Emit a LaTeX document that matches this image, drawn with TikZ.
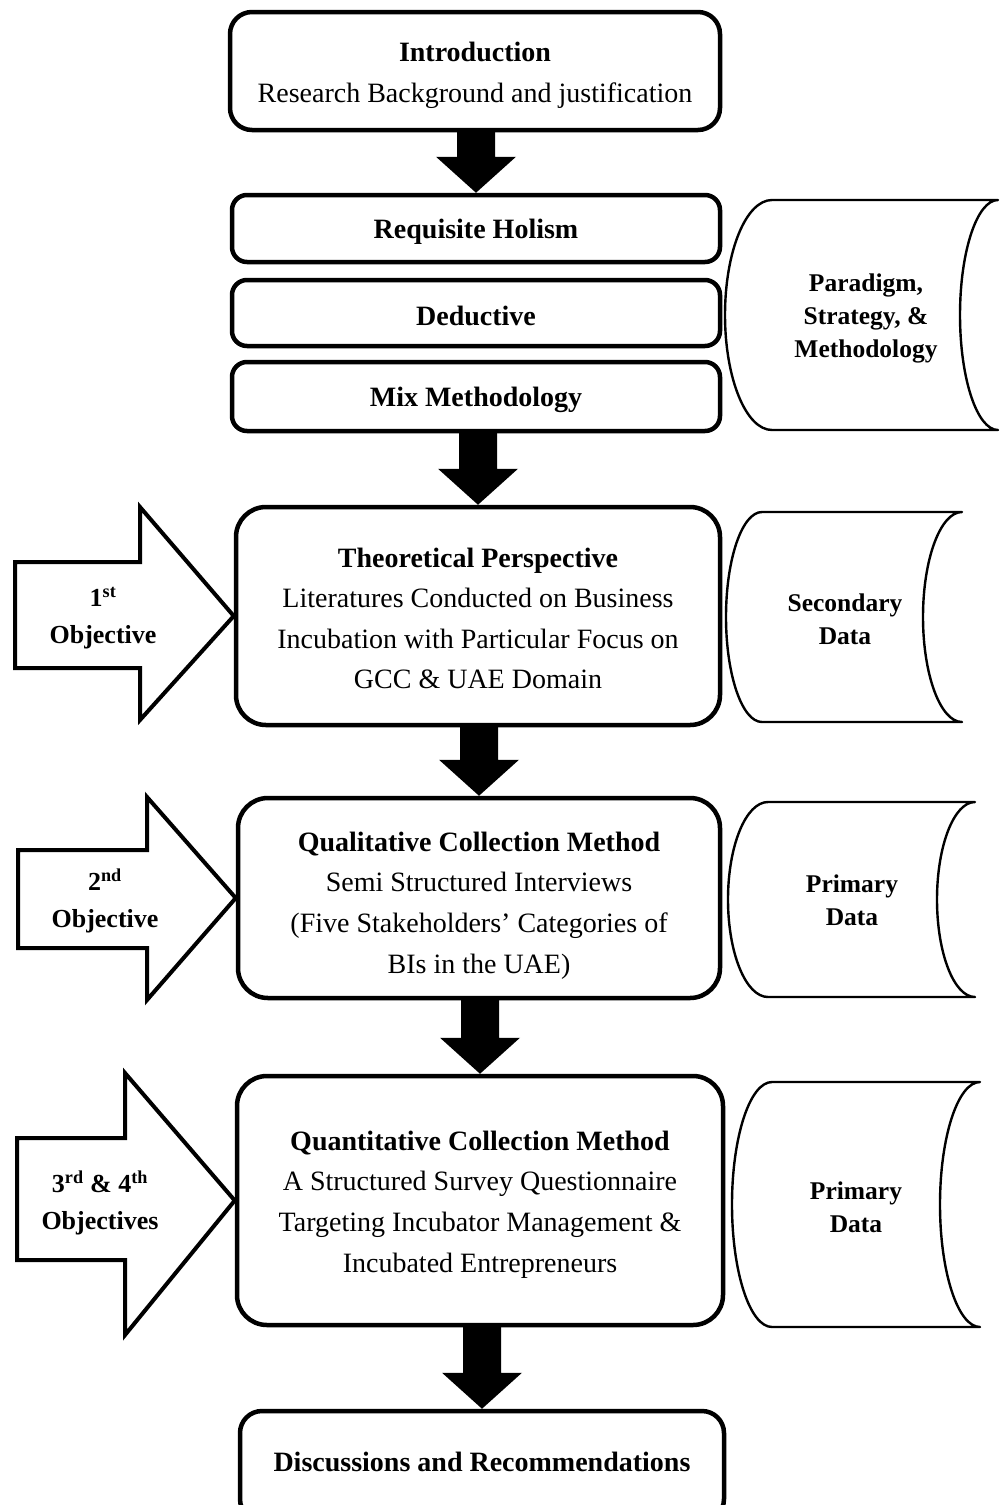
\documentclass[tikz,border=0pt]{standalone}
\usepackage{fontspec}
\setmainfont{Liberation Serif}
\usetikzlibrary{calc}

% horizontal data-store shape: left corner x, left bulge, right end x, right bulge, top y, bottom y
\newcommand\datacyl[6]{%
  \pgfmathsetmacro\cymid{(#5+#6)/2}%
  \pgfmathsetmacro\cyk{0.5523*(#6-#5)/2}%
  \draw[cylline] (#1,#5) -- (#3,#5)
    .. controls ({#3-0.5523*#4},#5) and ({#3-#4},{\cymid-\cyk}) .. ({#3-#4},\cymid)
    .. controls ({#3-#4},{\cymid+\cyk}) and ({#3-0.5523*#4},#6) .. (#3,#6)
    -- (#1,#6)
    .. controls ({#1-0.5523*#2},#6) and ({#1-#2},{\cymid+\cyk}) .. ({#1-#2},\cymid)
    .. controls ({#1-#2},{\cymid-\cyk}) and ({#1-0.5523*#2},#5) .. cycle;}

% solid black block arrow pointing down from one box to the next
\newcommand\blockdown[2]{%
  \fill let \p1=(#1.south), \p2=(#2.north) in
    (\x2-19pt,\y1+1pt) -- (\x2+19pt,\y1+1pt) -- (\x2+19pt,\y2+36pt) -- (\x2+40pt,\y2+36pt)
    -- (\x2,\y2) -- (\x2-40pt,\y2+36pt) -- (\x2-19pt,\y2+36pt) -- cycle;}

\begin{document}
\begin{tikzpicture}[x=1pt,y=-1pt,
  mainbox/.style={draw, line width=4.5pt, rounded corners=#1, inner sep=0pt},
  mainbox/.default=22pt,
  maintext/.style={align=center, inner sep=0pt, font=\fontsize{28}{40.6}\selectfont},
  cylline/.style={line width=2.4pt, line join=round},
  sidetext/.style={align=center, font=\fontsize{25.5}{33}\selectfont\bfseries},
  objarrow/.style={draw, line width=4pt, fill=white, line join=miter},
  objtext/.style={align=center, font=\fontsize{26}{37}\selectfont\bfseries}]
\useasboundingbox (0,0) rectangle (1000,1505);
\clip (0,0) rectangle (1000,1505);

% main flow: boxes
\node[mainbox, minimum width=490pt, minimum height=118pt] (intro) at (475,71) {};
\node[mainbox=15pt, minimum width=488pt, minimum height=67pt] (req) at (476,228.5) {};
\node[mainbox=15pt, minimum width=488pt, minimum height=66pt] (ded) at (476,313) {};
\node[mainbox=15pt, minimum width=488pt, minimum height=69pt] (mix) at (476,396.5) {};
\node[mainbox=30pt, minimum width=484pt, minimum height=218pt] (theo) at (478,616) {};
\node[mainbox=30pt, minimum width=482pt, minimum height=200pt] (qual) at (479,898) {};
\node[mainbox=30pt, minimum width=486pt, minimum height=249pt] (quant) at (480,1200.5) {};
\node[mainbox=22pt, minimum width=484pt, minimum height=110pt] (disc) at (482,1466) {};

% main flow: texts
\node[maintext] (introtxt) at ($(intro)+(0,4.5)$)
  {\textbf{Introduction}\\Research Background and justification};
\node[maintext] (reqtxt) at ($(req)+(0,3)$) {\textbf{Requisite Holism}};
\node[maintext] (dedtxt) at ($(ded)+(0,3)$) {\textbf{Deductive}};
\node[maintext] (mixtxt) at ($(mix)+(0,3)$) {\textbf{Mix Methodology}};
\node[maintext] (theotxt) at ($(theo)+(0,2.5)$)
  {\textbf{Theoretical Perspective}\\Literatures Conducted on Business\\Incubation with Particular Focus on\\GCC \& UAE Domain};
\node[maintext] (qualtxt) at ($(qual)+(0,7.5)$)
  {\textbf{Qualitative Collection Method}\\Semi Structured Interviews\\(Five Stakeholders' Categories of\\BIs in the UAE)};
\node[maintext] (quanttxt) at ($(quant)+(0,4)$)
  {\textbf{Quantitative Collection Method}\\A Structured Survey Questionnaire\\Targeting Incubator Management \&\\Incubated Entrepreneurs};
\node[maintext] (disctxt) at ($(disc)+(0,-4)$) {\textbf{Discussions and Recommendations}};

% arrows between stages
\blockdown{intro}{req}
\blockdown{mix}{theo}
\blockdown{theo}{qual}
\blockdown{qual}{quant}
\blockdown{quant}{disc}

% data stores on the right
\datacyl{772}{47}{998}{38}{200}{430}
\node[sidetext] (para) at (866,318) {Paradigm,\\Strategy, \&\\Methodology};
\datacyl{762}{36}{962}{39}{512}{722}
\node[sidetext] (sec) at (845,619) {Secondary\\Data};
\datacyl{768}{40}{975}{38}{802}{997}
\node[sidetext] (prim1) at (852,900.5) {Primary\\Data};
\datacyl{772}{40}{980}{40}{1082}{1327}
\node[sidetext] (prim2) at (856,1207) {Primary\\Data};

% objectives feeding the stages
\draw[objarrow] (15,562) -- (140,562) -- (140,507) -- (theo.west) -- (140,720) -- (140,668) -- (15,668) -- cycle;
\node[objtext] (obj1) at (103,618) {1\textsuperscript{st}\\Objective};
\draw[objarrow] (18,850) -- (147,850) -- (147,797) -- (qual.west) -- (147,1000) -- (147,948) -- (18,948) -- cycle;
\node[objtext] (obj2) at (105,901) {2\textsuperscript{nd}\\Objective};
\draw[objarrow] (17,1138) -- (125,1138) -- (125,1073) -- (quant.west) -- (125,1335) -- (125,1260) -- (17,1260) -- cycle;
\node[objtext] (obj3) at (100,1203) {3\textsuperscript{rd} \& 4\textsuperscript{th}\\Objectives};
\end{tikzpicture}
\end{document}
